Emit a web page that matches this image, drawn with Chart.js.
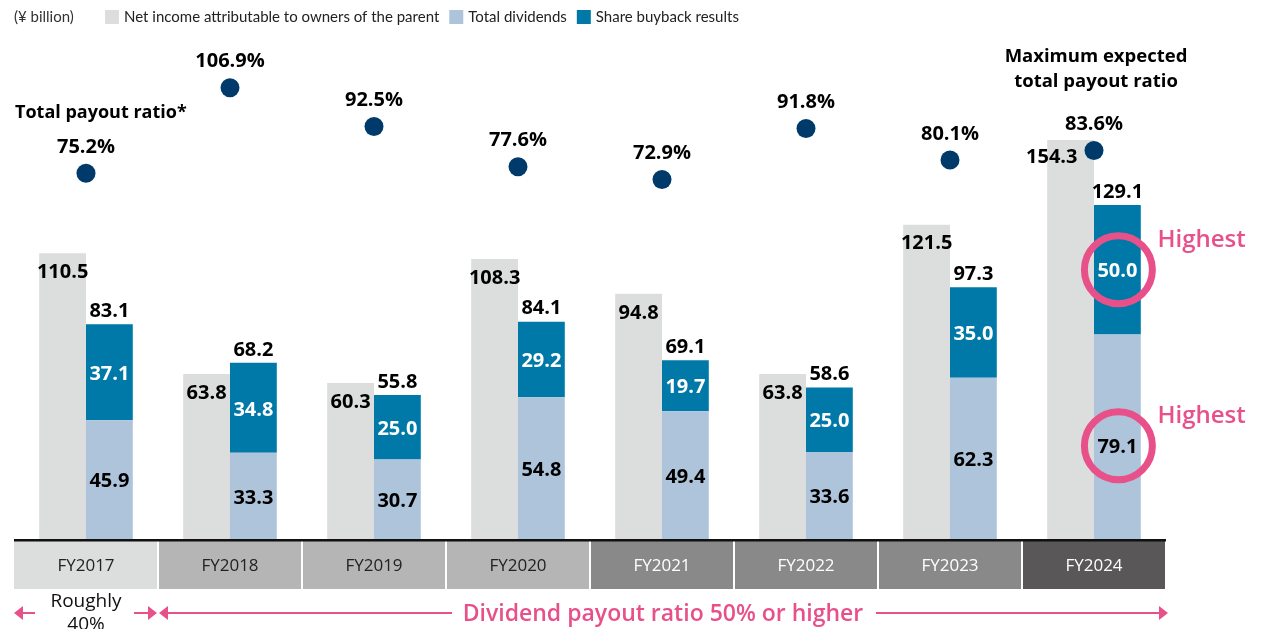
<!DOCTYPE html>
<html>
<head>
<meta charset="utf-8">
<script src="https://cdn.jsdelivr.net/npm/chart.js@4.4.0/dist/chart.umd.min.js"></script>
<style>
html,body{margin:0;padding:0;background:#fff;}
#wrap{width:1277px;height:629px;position:relative;}
</style>
</head>
<body>
<div id="wrap"><canvas id="c" width="1277" height="629"></canvas></div>
<script>
const categories = ['FY2017','FY2018','FY2019','FY2020','FY2021','FY2022','FY2023','FY2024'];
const netIncome = [110.5, 63.8, 60.3, 108.3, 94.8, 63.8, 121.5, 154.3];
const dividends = [45.9, 33.3, 30.7, 54.8, 49.4, 33.6, 62.3, 79.1];
const buybacks = [37.1, 34.8, 25.0, 29.2, 19.7, 25.0, 35.0, 50.0];
const totalReturns = [83.1, 68.2, 55.8, 84.1, 69.1, 58.6, 97.3, 129.1];
const payoutRatio = [75.2, 106.9, 92.5, 77.6, 72.9, 91.8, 80.1, 83.6];
const seriesNames = ['Net income attributable to owners of the parent', 'Total dividends', 'Share buyback results'];

const C_GRAY = '#dcdddd', C_LBLUE = '#adc4da', C_BLUE = '#0079a8', C_DOT = '#003a6b', C_PINK = '#e8508a';
const boxColors = ['#dcdddd','#b5b5b6','#b5b5b6','#b5b5b6','#898989','#898989','#898989','#595757'];
const boxText = ['#222','#222','#222','#222','#fff','#fff','#fff','#fff'];

const FONT = '"Open Sans", "Noto Sans", sans-serif';
const DOT_R = 9.5;

const overlay = {
  id: 'overlay',
  afterDatasetsDraw(chart) {
    const ctx = chart.ctx;
    const mNI = chart.getDatasetMeta(0).data;
    const mDiv = chart.getDatasetMeta(1).data;
    const mBuy = chart.getDatasetMeta(2).data;
    const mPt = chart.getDatasetMeta(3).data;
    const last = categories.length - 1;
    ctx.save();
    ctx.textAlign = 'center';
    ctx.textBaseline = 'middle';
    ctx.font = 'bold 20px ' + FONT;
    const circ = [];
    for (let i = 0; i < categories.length; i++) {
      ctx.fillStyle = '#000';
      // net income label inside top of bar; shift left if it would hit the ratio dot
      const t = netIncome[i].toFixed(1);
      const w = ctx.measureText(t).width;
      let nx = mNI[i].x, ny = mNI[i].y + 19;
      if (Math.abs(ny - mPt[i].y) < 20 && nx + w / 2 > mPt[i].x - DOT_R - 4) {
        nx = mPt[i].x - DOT_R - 7 - w / 2;
        ny = mNI[i].y + 17;
      }
      ctx.fillText(t, nx, ny);
      // dividends
      let dy = (mDiv[i].y + mDiv[i].base) / 2 + 2;
      if (i === last) dy += 9;
      ctx.fillText(dividends[i].toFixed(1), mDiv[i].x, dy);
      // total above stack
      ctx.fillText(totalReturns[i].toFixed(1), mBuy[i].x, mBuy[i].y - 13);
      // payout ratio
      ctx.fillText(payoutRatio[i].toFixed(1) + '%', mPt[i].x, mPt[i].y - 26);
      // buyback (white)
      ctx.fillStyle = '#fff';
      const by = (mBuy[i].y + mBuy[i].base) / 2 + 2;
      ctx.fillText(buybacks[i].toFixed(1), mBuy[i].x, by);
      if (i === last) circ.push([mBuy[i].x, by - 2], [mDiv[i].x, dy - 2]);
    }
    // Highest circles on last category
    ctx.strokeStyle = C_PINK;
    ctx.lineWidth = 7;
    ctx.fillStyle = C_PINK;
    ctx.textAlign = 'left';
    ctx.font = '600 24px ' + FONT;
    circ.forEach(([cx, cy]) => {
      ctx.beginPath();
      ctx.arc(cx + 1, cy, 34, 0, Math.PI * 2);
      ctx.stroke();
      ctx.fillText('Highest', cx + 40, cy - 30);
    });
    ctx.restore();
  },
  afterDraw(chart) {
    const ctx = chart.ctx;
    const xs = chart.scales.x;
    const area = chart.chartArea;
    const step = (area.right - area.left) / categories.length;
    ctx.save();
    // category boxes
    for (let i = 0; i < categories.length; i++) {
      const cx = xs.getPixelForValue(i);
      const l = cx - step / 2;
      ctx.fillStyle = boxColors[i];
      ctx.fillRect(l + (i === 0 ? 0 : 1), area.bottom + 2, step - (i === 0 ? 1 : 2), 48);
      ctx.fillStyle = boxText[i];
      ctx.font = '17px ' + FONT;
      ctx.textAlign = 'center';
      ctx.textBaseline = 'middle';
      ctx.fillText(categories[i], cx, area.bottom + 27);
    }
    // baseline
    ctx.fillStyle = '#111';
    ctx.fillRect(area.left, area.bottom, area.right - area.left, 2.5);

    // legend
    ctx.textBaseline = 'middle';
    ctx.textAlign = 'left';
    ctx.font = '15px Lato, ' + FONT;
    ctx.fillStyle = '#333';
    ctx.fillText('(\u00a5 billion)', 14, 17);
    const sw = [C_GRAY, C_LBLUE, C_BLUE];
    let x = 105;
    for (let k = 0; k < 3; k++) {
      ctx.fillStyle = sw[k];
      ctx.fillRect(x, 10, 14, 14);
      ctx.fillStyle = '#222';
      ctx.fillText(seriesNames[k], x + 19, 17);
      x += 19 + ctx.measureText(seriesNames[k]).width + 10;
    }

    // annotations
    ctx.fillStyle = '#000';
    ctx.font = 'bold 18px ' + FONT;
    ctx.fillText('Total payout ratio*', 15, 113);
    ctx.textAlign = 'center';
    ctx.font = 'bold 18.5px ' + FONT;
    const lx = xs.getPixelForValue(categories.length - 1);
    ctx.fillText('Maximum expected', lx + 2, 57);
    ctx.fillText('total payout ratio', lx + 2, 82);

    // bottom arrows
    const y = 613;
    ctx.strokeStyle = C_PINK;
    ctx.fillStyle = C_PINK;
    ctx.lineWidth = 2;
    const line = (a, b) => { ctx.beginPath(); ctx.moveTo(a, y); ctx.lineTo(b, y); ctx.stroke(); };
    const head = (tip, dir) => { ctx.beginPath(); ctx.moveTo(tip, y); ctx.lineTo(tip - dir * 9, y - 7); ctx.lineTo(tip - dir * 9, y + 7); ctx.closePath(); ctx.fill(); };
    const boxL = area.left, b1 = xs.getPixelForValue(0) + step / 2, boxR = area.right;
    head(boxL, -1); line(boxL + 8, boxL + 21);
    line(b1 - 24, b1 - 6); head(b1 - 1, 1);
    head(b1 + 1, -1); line(b1 + 8, 452);
    line(876, boxR - 6); head(boxR + 2, 1);
    ctx.font = '600 23px ' + FONT;
    ctx.textAlign = 'center';
    ctx.fillText('Dividend payout ratio 50% or higher', 663, 614);
    ctx.fillStyle = '#111';
    ctx.font = '19px ' + FONT;
    ctx.fillText('Roughly', xs.getPixelForValue(0), 602);
    ctx.fillText('40%', xs.getPixelForValue(0), 625);
    ctx.restore();
  }
};

new Chart(document.getElementById('c'), {
  type: 'bar',
  data: {
    labels: categories,
    datasets: [
      { label: seriesNames[0], data: netIncome, backgroundColor: C_GRAY, stack: 'ni', order: 1 },
      { label: seriesNames[1], data: dividends, backgroundColor: C_LBLUE, stack: 'ret', order: 1 },
      { label: seriesNames[2], data: buybacks, backgroundColor: C_BLUE, stack: 'ret', order: 1 },
      { type: 'line', label: 'Total payout ratio', data: payoutRatio, yAxisID: 'y2', showLine: false,
        pointRadius: DOT_R, pointHoverRadius: DOT_R, pointBackgroundColor: C_DOT, pointBorderWidth: 0, order: 0 }
    ]
  },
  options: {
    responsive: false,
    animation: false,
    devicePixelRatio: 1,
    layout: { padding: { left: 14, right: 111, top: 30, bottom: 90 } },
    datasets: { bar: { categoryPercentage: 0.65, barPercentage: 1.0, borderWidth: 0 } },
    plugins: { legend: { display: false }, tooltip: { enabled: false } },
    scales: {
      x: { display: false, stacked: true },
      y: { display: false, stacked: true, min: 0, max: 196.8 },
      y2: { display: false, min: -60.26, max: 128.26 }
    }
  },
  plugins: [overlay]
});
</script>
</body>
</html>
